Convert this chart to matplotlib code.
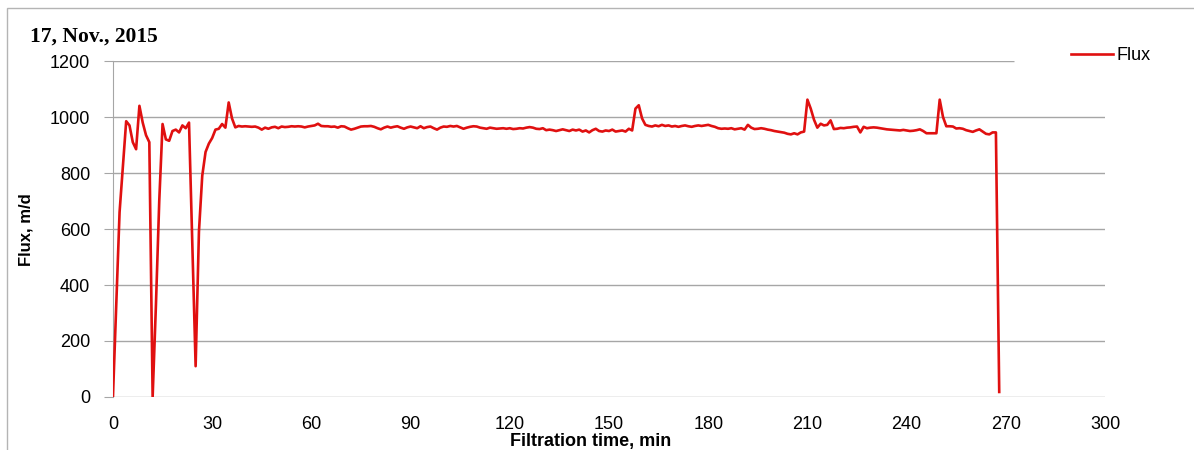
import numpy as np
import matplotlib.pyplot as plt
from matplotlib.patches import Rectangle

plt.rcParams['font.family'] = ['Liberation Sans', 'DejaVu Sans']

## Datos
title = '17, Nov., 2015'
series_name = 'Flux'
x_ticks = [0, 30, 60, 90, 120, 150, 180, 210, 240, 270, 300]
y_ticks = [0, 200, 400, 600, 800, 1000, 1200]

# flux every minute, 0..268 min
flux = [
    0, 330, 660, 820, 985, 970, 910, 885, 1040, 980,
    935, 910, 0, 330, 700, 975, 920, 915, 950, 955,
    945, 970, 960, 980, 540, 110, 590, 790, 875, 905,
    925, 955, 958, 975, 962, 1052, 995, 963, 968, 966,
    967, 966, 965, 966, 962, 955, 962, 958, 963, 965,
    960, 966, 964, 965, 967, 966, 967, 966, 963, 966,
    968, 970, 976, 968, 967, 967, 965, 966, 962, 967,
    966, 960, 955, 958, 962, 966, 967, 967, 968, 965,
    960, 956, 962, 966, 962, 965, 967, 962, 958, 963,
    966, 963, 960, 967, 960, 964, 966, 960, 955, 962,
    966, 965, 968, 966, 968, 963, 958, 962, 965, 967,
    966, 962, 960, 958, 962, 960, 958, 959, 960, 958,
    960, 957, 958, 960, 959, 962, 964, 962, 958, 957,
    960, 953, 955, 953, 950, 953, 956, 953, 950, 955,
    952, 955, 948, 952, 945, 953, 958, 950, 948, 952,
    950, 955, 948, 950, 952, 948, 958, 952, 1030, 1042,
    995, 972, 968, 966, 970, 967, 972, 968, 970, 966,
    968, 965, 968, 970, 967, 965, 968, 970, 968, 970,
    972, 968, 965, 960, 958, 959, 958, 960, 956, 958,
    960, 955, 972, 962, 957, 958, 960, 958, 955, 953,
    950, 948, 946, 944, 940, 938, 942, 938, 945, 948,
    1062, 1030, 990, 962, 976, 970, 972, 988, 957, 958,
    961, 960, 962, 963, 965, 966, 945, 965, 960, 962,
    963, 962, 960, 958, 956, 955, 954, 953, 952, 954,
    952, 950, 951, 953, 956, 950, 942, 942, 942, 942,
    1062, 1000, 967, 967, 966, 959, 960, 958, 953, 950,
    947, 952, 956, 948, 940, 938, 945, 945, 18,
]
time = np.arange(len(flux))

fig = plt.figure(figsize=(11.94, 4.5), dpi=100)
ax = fig.add_axes([0.0946, 0.1178, 0.8309, 0.7466])

# outer chart frame
fig.patches.append(Rectangle((7 / 1194, -0.1), 1.2, 1 - 8 / 450 + 0.1,
                             transform=fig.transFigure, fill=False,
                             edgecolor='#b4b4b4', lw=1))

grid_c = '#a6a6a6'
for yv in y_ticks[:-1]:
    ax.hlines(yv, 0, 300, color=grid_c, lw=1, zorder=1)
ax.hlines(1200, 0, 272.5, color=grid_c, lw=1, zorder=1)

ax.plot(time, flux, '-', color='#e01010', lw=1.9, label=series_name, zorder=3)

ax.set_xlim(0, 300)
ax.set_ylim(0, 1200)
ax.set_xticks(x_ticks)
ax.set_yticks(y_ticks)
for s in ['top', 'right', 'bottom']:
    ax.spines[s].set_visible(False)
ax.spines['left'].set_color(grid_c)
ax.tick_params(axis='y', direction='out', length=6.5, color=grid_c, pad=10, labelsize=13)
ax.tick_params(axis='x', length=0, pad=14, labelsize=13)

ax.set_xlabel('Filtration time, min', fontsize=13, fontweight='bold')
ax.xaxis.set_label_coords(0.481, -0.107)
ax.set_ylabel('Flux, m/d', fontsize=12, fontweight='bold')
ax.yaxis.set_label_coords(-0.0796, 0.497)

fig.text(30 / 1194, 1 - 37 / 450, title, family='Liberation Serif', fontweight='bold',
         fontsize=15.5, ha='left', va='center')

fig.legend(loc='center left', bbox_to_anchor=(1055 / 1194, 1 - 56 / 450), frameon=False,
           fontsize=13, handlelength=2.3, handletextpad=0.2)

fig.savefig('out.png')
